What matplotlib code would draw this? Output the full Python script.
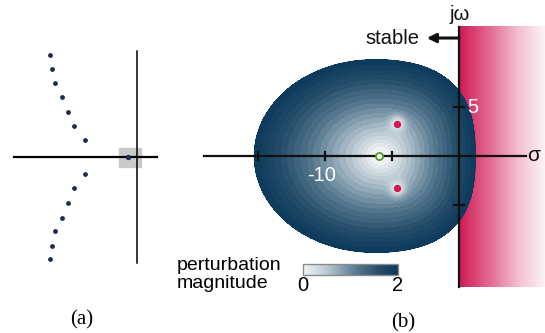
import numpy as np
import matplotlib
matplotlib.use('Agg')
import matplotlib.pyplot as plt
from matplotlib.colors import LinearSegmentedColormap, Normalize
from matplotlib.cm import ScalarMappable
from matplotlib.patches import Rectangle

plt.rcParams['font.family'] = ['Liberation Sans', 'DejaVu Sans']

# (a) pole pattern of the original system
poles_a_re = [-8.7, -8.5, -8.2, -7.5, -6.9, -6.3, -5.2,
              -5.2, -6.3, -6.9, -7.5, -8.2, -8.5, -8.7]
poles_a_im = [10.2, 8.8, 7.4, 6.0, 4.5, 3.1, 1.7,
              -1.7, -3.1, -4.6, -6.1, -7.4, -8.9, -10.2]
dominant_re = [-0.9]
dominant_im = [0.0]

# (b) reduced model: poles, zero, axis ticks
poles_b_re = [-4.6, -4.6]
poles_b_im = [3.3, -3.3]
zero_b_re = [-6.0]
zero_b_im = [0.0]
sigma_ticks = [-15, -10, -5, 0]
omega_ticks = [5, -5]
mag_max = 2.0

# outline of the region where perturbation magnitude <= 2 (upper half)
edge_sigma = [-15.3, -15.2, -14.87, -14.25, -13.26, -12.14, -11.27, -10.28, -8.28, -5.8,
              -4.4, -2.91, -1.66, -0.67, 0.07, 0.57, 0.95, 1.19, 1.27]
edge_omega = [0.0, 1.3, 2.99, 4.69, 6.05, 7.42, 8.27, 8.95, 9.56, 9.8,
              9.62, 9.29, 8.6, 7.58, 6.56, 5.2, 3.5, 1.46, 0.0]
field_center = -5.6

W, H = 545, 333
fig = plt.figure(figsize=(W / 100, H / 100), dpi=100)


def px_axes(left, right, top, bottom):
    return fig.add_axes([left / W, 1 - bottom / H, (right - left) / W, (bottom - top) / H])


# ---------------- panel (a) ----------------
ax_a = px_axes(10, 165, 45, 270)
ax_a.set_xlim(-12.7, 2.8)
ax_a.set_ylim(-11.3, 11.2)
ax_a.axis('off')
ax_a.add_patch(Rectangle((-1.8, -1.0), 2.2, 1.9, color='#c9c9c9', zorder=1))
ax_a.plot([-12.3, 2.0], [0, 0], color='k', lw=1.6, zorder=2)
ax_a.plot([0, 0], [-10.6, 10.6], color='k', lw=1.1, zorder=2)
ax_a.scatter(poles_a_re, poles_a_im, s=6, color='#1d2b4f', zorder=3)
ax_a.scatter(dominant_re, dominant_im, s=8, color='#1d2b4f', zorder=3)

# ---------------- panel (b) ----------------
ax_b = px_axes(195, 545, 0, 300)
ax_b.set_xlim(-19.70, 6.42)
ax_b.set_ylim(-14.69, 15.92)
ax_b.axis('off')

# unstable half-plane shading
pink = LinearSegmentedColormap.from_list(
    'pink', [(0, '#cd1a54'), (0.35, '#e26a91'), (0.7, '#f3c3d3'), (1, '#fdf6f8')])
grad = np.linspace(0, 1, 256)[None, :]
ax_b.imshow(grad, extent=[0, 6.42, -13.37, 13.16], cmap=pink, aspect='auto', zorder=1)

# perturbation magnitude field: radial growth to the outline, dips at poles/zero
sx, sy = 13.4, 9.8  # screen scale of one unit on each axis
es = np.array(edge_sigma)
eo = np.array(edge_omega)
th_e = np.arctan2(eo * sy, (es - field_center) * sx)
r_e = np.hypot(eo * sy, (es - field_center) * sx)
# smooth outline: cosine series fitted to the read points (symmetric about the real axis)
n_harm = 5
A = np.column_stack([np.cos(n * th_e) for n in range(n_harm + 1)])
coef = np.linalg.lstsq(A, r_e, rcond=None)[0]

sig = np.linspace(-19, 4, 700)
om = np.linspace(-13, 13, 600)
S, Om = np.meshgrid(sig, om)
th = np.arctan2(Om * sy, (S - field_center) * sx)
r_edge = sum(c * np.cos(n * th) for n, c in enumerate(coef))
rho = np.hypot(Om * sy, (S - field_center) * sx) / r_edge
mag = mag_max * rho
for re, im, w in zip(poles_b_re + zero_b_re, poles_b_im + zero_b_im, [8, 8, 13]):
    d = np.hypot((S - re) * sx, (Om - im) * sy)
    mag = mag * (1 - 0.9 * np.exp(-(d / w) ** 2))

blob = LinearSegmentedColormap.from_list(
    'blob', [(0, '#f4f6f7'), (0.25, '#b9c8d2'), (0.55, '#5a7b91'), (0.8, '#244c69'), (1, '#0c3a5b')])
levels = np.linspace(0, mag_max, 21)
ax_b.contourf(S, Om, mag, levels=levels, cmap=blob, zorder=2, antialiased=False)
ax_b.contour(S, Om, mag, levels=[mag_max * 0.999], colors='#0c3a5b', linewidths=0.8, zorder=2)

# axes of the s-plane
ax_b.plot([-19.03, 5.0], [0, 0], color='#111111', lw=1.6, zorder=5)
ax_b.plot([0, 0], [-13.37, 13.16], color='#111111', lw=1.6, zorder=5)
for t in sigma_ticks:
    ax_b.plot([t, t], [-0.45, 0.45], color='#111111', lw=1.6, zorder=5)
for t in omega_ticks:
    ax_b.plot([-0.4, 0.4], [t, t], color='#111111', lw=1.6, zorder=5)

ax_b.scatter(poles_b_re, poles_b_im, s=18, color='#d3174e', zorder=6)
ax_b.scatter(zero_b_re, zero_b_im, s=26, facecolor='white', edgecolor='#4e9a2c',
             linewidth=1.3, zorder=6)

ax_b.text(-10.26, -1.95, '-10', color='white', fontsize=14.5, ha='center', va='center', zorder=7)
ax_b.text(0.6, 5.0, '5', color='white', fontsize=14.5, ha='left', va='center', zorder=7)
ax_b.text(5.1, 0.1, 'σ', color='#111111', fontsize=15, ha='left', va='center', zorder=7)
ax_b.text(0.05, 14.4, 'jω', color='#111111', fontsize=14.5, ha='center', va='center', zorder=7)
ax_b.text(-2.95, 12.0, 'stable', color='#111111', fontsize=14.5, ha='right', va='center', zorder=7)
ax_b.annotate('', xy=(-2.4, 12.04), xytext=(0, 12.04),
              arrowprops=dict(arrowstyle='-|>', lw=2.2, color='#111111', mutation_scale=13,
                              shrinkA=0, shrinkB=0), zorder=7)

# colour bar
cax = px_axes(303, 398, 264, 275)
cb = fig.colorbar(ScalarMappable(norm=Normalize(0, mag_max), cmap=blob), cax=cax,
                  orientation='horizontal', ticks=[0, mag_max])
cb.ax.set_xticklabels(['0', '2'])
cb.ax.tick_params(length=0, labelsize=14.5, pad=1)
cb.outline.set_edgecolor('#8a8a8a')
cb.outline.set_linewidth(1.0)

fig.text(177 / W, 1 - 265 / H, 'perturbation', fontsize=14, ha='left', va='center')
fig.text(177 / W, 1 - 283 / H, 'magnitude', fontsize=14, ha='left', va='center')

fig.text(82 / W, 1 - 320 / H, '(a)', family='Liberation Serif', fontsize=15, ha='center', va='center')
fig.text(403 / W, 1 - 323 / H, '(b)', family='Liberation Serif', fontsize=15, ha='center', va='center')

fig.savefig('out.png', dpi=100)
